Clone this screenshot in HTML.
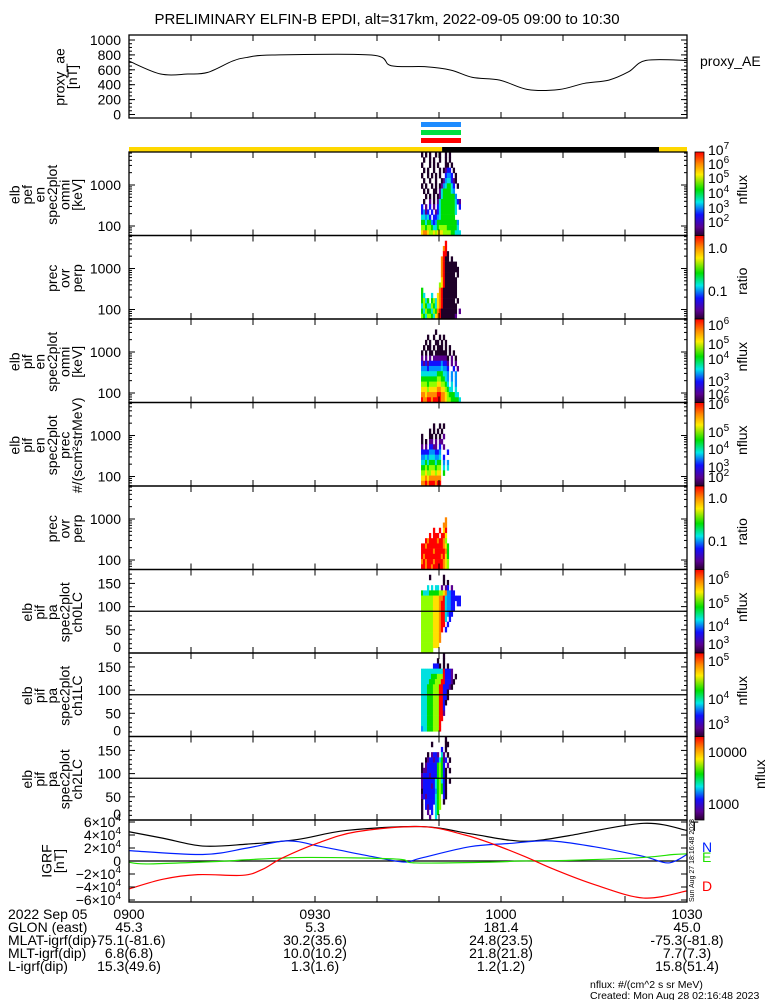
<!DOCTYPE html>
<html><head><meta charset="utf-8"><style>
html,body{margin:0;padding:0;background:#fff;}
svg{display:block;font-family:"Liberation Sans",sans-serif;}
</style></head><body>
<svg id="c" width="775" height="1000" xmlns="http://www.w3.org/2000/svg"></svg>
<script>
// ---------- DATA ----------
const aeTimes=[0,5.1,9.5,12.7,16.7,19.1,23.1,39.1,42.3,47.9,51.9,55.4,59.8,64.3,69.4,73.4,77.4,80.6,83.4,90];
const aeValues=[717,543,543,565,717,767,798,798,655,641,596,498,462,336,336,417,462,574,726,726];
const aeTicks=[0,200,400,600,800,1000];
const tT=[0,5.5,11.9,19.1,27.1,35.1,47.1,55.0,61.4,65.4,71.0,83.0,90];
const tV=[4.5e4,3.5e4,2.3e4,2.6e4,3.3e4,4.7e4,5.3e4,4.2e4,3.2e4,3.1e4,3.9e4,5.8e4,4.7e4];
const nT=[0,11.9,19.1,25.5,31.1,39.1,44.3,47.1,55.0,61.4,67.8,75.0,83.0,87.0,90];
const nV=[1.6e4,1.0e4,2.0e4,3.1e4,2.2e4,0.7e4,-0.15e4,0.45e4,2.2e4,2.7e4,3.1e4,2.2e4,0.7e4,-0.3e4,1.0e4];
const eT=[0,3.2,15.9,19.1,28.7,43.1,46.3,59.0,63.0,71.0,83.0,87.8,90];
const eV=[-0.2e4,-0.45e4,0,0.2e4,0.55e4,0.3e4,-0.3e4,-0.15e4,0,0.1e4,0.55e4,1.0e4,1.1e4];
const dT=[0,5.5,11.1,18.3,21.5,24.7,30.3,36.7,47.1,54.2,59.0,63.8,68.6,75.0,83.0,90];
const dV=[-4.3e4,-2.8e4,-2.1e4,-2.2e4,-1.3e4,0.45e4,2.7e4,4.5e4,5.3e4,4.0e4,2.5e4,0.7e4,-1.3e4,-3.6e4,-5.7e4,-4.6e4];
const igrfTicks=[-6,-4,-2,0,2,4,6];
const timeLabels=["0900","0930","1000","1030"];
const timeLabelMin=[0,30,60,90];
const glon=["45.3","5.3","181.4","45.0"];
const mlat=["-75.1(-81.6)","30.2(35.6)","24.8(23.5)","-75.3(-81.8)"];
const mlt=["6.8(6.8)","10.0(10.2)","21.8(21.8)","7.7(7.3)"];
const lval=["15.3(49.6)","1.3(1.6)","1.2(1.2)","15.8(51.4)"];
const specStart=47.1, specStep=0.32;
const sunT=[0,50.5,85.5,90];
const spec1=[
"0.0.0..0.0..0.0.....",".0..0.0..0..0.0.....","0...0.0.0...00.0....",".0.0..0..0.0122.0...",
"0..0.0.0.0..2332.0..",".0..0..0..01344210..","0.0..0.0.01345542.0.",".0.0..00.14555543...",
"..0.0.0.0145555553..",".0..1.0.145555555421","2.1.2.1.2455555554.2","2312.2.12455555554..",
"44342.22345555555...","5545532355555555553.","6656654456666555554.","78876676777666655444"];
const spec2=[
"....................","............9.......","...........89.......","...........990......",
"..........8900.0....","..........89000000..","..........890000000.","..........8900000.0.",
"..........79000000..",".........679000000..","5........890000000..","54...4..7890000000..",
"5645.564789000000.0.","465446547890000000..","546554658900000000.1","654665478900000001.."];
const spec3=[
"....................","....................",".......0............","...0..0..0.0........",
"..0.0..00.0.0.......",".0.00.0.000.0.0.....","0.0.00.000000.0.0...","1.1.1.11111110.1.0..",
"21212222223221.1.1..","33323333334332..2.1.","44444444555443.3.3..","55555555665543.3.3..",
"66656666776654.4.3..","7776777788776544.4..","8878888899887655544.","98899899998876655554"];
const spec4=[
"....................","....................","....................","....................",
"......0..0.0........","....0.0.0.0.........","0...00.0.0.1........","0.0.11.1.11.........",
"1.1.2211.2.1........","2222333223...2......","3343444334.2........","4454555455.3.3......",
"5565666566.4.4......","6676677677.5........","7787888888..........","8898999899.........."];
const spec5=[
"....................","....................","....................","....................",
"....................","....................","............8.......","...........88.......",
"......9..9.79.......","....9.999.997.......","..98999989986.......","99899999999875......",
"99999989999985......","98999999998975......","89899989999876......","99899899999876......"];
const spec6=[
"....................","....0......0........","...........0.0......","...4.4.44.1.12.1....",
"54445555566783322...","66666677788943322222","66666677789943322.22","66666677789943322...",
"6666667778994322....","6666667778994.2.....","666666777899.2......","66666677789.2.......",
"6666667778..........","6666667778..........","666666777...........","666666.............."];
const spec7=[
"...........0........","........0..0........","......2220.0.0......","4444444444492221....",
"4444455566692221.0..","44445556669922210...","4445556669922210....","44455566699220......",
"44455566699220......","4445556669920.......","444555666992........","444555666991........",
"44455566699.........","4445556669..........","3445556669..........","...................."];
const spec8=[
"............0.......",".....0......00......","..........2.0.......","...0.1221.41.0......",
"..01221224512.0.....","0.1222225652.1......","0112222256520.0.....","1222122256520.......",
"1222222456420.0.....","1222212456520.......","0222222356520.......","1212222456.20.......",
"0.22222456.0........","0.2122.456..........","0..1.2.45...........","0...1..4............"];

// ---------- HELPERS ----------
const svg=document.getElementById('c');
const NS="http://www.w3.org/2000/svg";
function el(tag,attrs,parent){const e=document.createElementNS(NS,tag);for(const k in attrs)e.setAttribute(k,attrs[k]);(parent||svg).appendChild(e);return e;}
const X0=129,X1=687;
function xs(m){return X0+(X1-X0)*m/90;}
function smoothPath(pts){let d='M'+pts[0][0]+','+pts[0][1];for(let i=0;i<pts.length-1;i++){const p0=pts[Math.max(0,i-1)],p1=pts[i],p2=pts[i+1],p3=pts[Math.min(pts.length-1,i+2)];
 const c1x=p1[0]+(p2[0]-p0[0])/6,c1y=p1[1]+(p2[1]-p0[1])/6,c2x=p2[0]-(p3[0]-p1[0])/6,c2y=p2[1]-(p3[1]-p1[1])/6;
 d+=' C'+c1x+','+c1y+' '+c2x+','+c2y+' '+p2[0]+','+p2[1];}return d;}
const levelColors=['#1e0028','#5a0090','#1010ff','#0090ff','#00e0e0','#00dd00','#90ff00','#ffe000','#ff8800','#ff0000'];
function txt(s,x,y,o,name){const t=el('text',Object.assign({x:x,y:y,'font-size':14,fill:'#000'},o||{}));t.textContent=s;return t;}
function vlabels(lines,lastX,cy,name){const n=lines.length;lines.forEach((s,i)=>{const cx=lastX-(n-1-i)*12.5;const t=el('text',{x:cx+5,y:cy,'font-size':14,'text-anchor':'middle',transform:'rotate(-90 '+(cx+5)+' '+cy+')'});t.textContent=s;});}
function timeTicks(top,bot){for(let m=10;m<90;m+=10){const x=xs(m);el('line',{x1:x,y1:bot,x2:x,y2:bot-6,stroke:'#000'});el('line',{x1:x,y1:top,x2:x,y2:top+6,stroke:'#000'});}}
function frame(top,bot,name){const r=el('rect',{x:X0,y:top,width:X1-X0,height:bot-top,fill:'none',stroke:'#000','stroke-width':1.3});}
function sup(base,exp,x,y,anchor,name){const t=el('text',{x:x,y:y,'font-size':14,'text-anchor':anchor||'start'});t.appendChild(document.createTextNode(base));const s=el('tspan',{dy:-6,'font-size':10},t);s.textContent=exp;return t;}

// ---------- TITLE ----------
txt("PRELIMINARY ELFIN-B EPDI, alt=317km, 2022-09-05 09:00 to 10:30",387,24,{'text-anchor':'middle','font-size':15},'plot-title');

// ---------- PROXY AE ----------
const aeTop=35,aeBot=118;
function ya(v){return 114.5-(v/1000)*74.5;}
frame(aeTop,aeBot,'proxy-ae-panel');timeTicks(aeTop,aeBot);
aeTicks.forEach(v=>{txt(String(v),121,ya(v)+5,{'text-anchor':'end'},'ae-y-tick');el('line',{x1:X0,y1:ya(v),x2:X0+6,y2:ya(v),stroke:'#000'});el('line',{x1:X1,y1:ya(v),x2:X1-6,y2:ya(v),stroke:'#000'});});
for(let v=50;v<1050;v+=50){el('line',{x1:X0,y1:ya(v),x2:X0+3,y2:ya(v),stroke:'#000'});el('line',{x1:X1,y1:ya(v),x2:X1-3,y2:ya(v),stroke:'#000'});}
const aeLine=el('path',{d:smoothPath(aeTimes.map((t,i)=>[xs(t),ya(aeValues[i])])),fill:'none',stroke:'#000','stroke-width':1});

vlabels(["proxy_ae","[nT]"],72,77,'ae-y-axis-title');
txt("proxy_AE",700,66,{},'proxy-ae-legend');

// ---------- STATUS BARS ----------
[['#1e8cff',122,'blue-science-bar'],['#00e040',130,'green-science-bar'],['#ff0000',138,'red-science-bar']].forEach(b=>{const r=el('rect',{x:421,y:b[1],width:40,height:5,fill:b[0]});});
for(let i=0;i<sunT.length-1;i++){const r=el('rect',{x:xs(sunT[i]),y:147,width:xs(sunT[i+1])-xs(sunT[i]),height:5,fill:i%2?'#000':'#ffd800'});}

// ---------- SPECTROGRAM PANELS ----------
const H=83.5;
const panels=[
 {data:spec1,kind:'log',lab:["elb","pef","en","spec2plot","omni","[keV]"],cb:[['10','7',155],['10','6',169],['10','5',183],['10','4',198],['10','3',213],['10','2',227]],cbt:'nflux'},
 {data:spec2,kind:'log',lab:["prec","ovr","perp"],cb:[['1.0','',253],['0.1','',296]],cbt:'ratio'},
 {data:spec3,kind:'log',lab:["elb","pif","en","spec2plot","omni","[keV]"],cb:[['10','6',330],['10','5',349],['10','4',364],['10','3',386],['10','2',399]],cbt:'nflux'},
 {data:spec4,kind:'log',lab:["elb","pif","en","spec2plot","prec","#/(scm\u00b2strMeV)"],cb:[['10','6',409],['10','5',437],['10','4',454],['10','3',472],['10','2',482]],cbt:'nflux'},
 {data:spec5,kind:'log',lab:["prec","ovr","perp"],cb:[['1.0','',503],['0.1','',546]],cbt:'ratio'},
 {data:spec6,kind:'pa',lab:["elb","pif","pa","spec2plot","ch0LC"],cb:[['10','6',584],['10','5',608],['10','4',631],['10','3',649]],cbt:'nflux'},
 {data:spec7,kind:'pa',lab:["elb","pif","pa","spec2plot","ch1LC"],cb:[['10','5',666],['10','4',704],['10','3',729]],cbt:'nflux'},
 {data:spec8,kind:'pa',lab:["elb","pif","pa","spec2plot","ch2LC"],cb:[['10000','',757],['1000','',809]],cbt:'nflux'}
];
panels.forEach((p,pi)=>{
 const top=152+pi*H,bot=top+H;
 const g=el('g',{});
 const rows=p.data.length,rh=H/rows;
 p.data.forEach((row,r)=>{for(let c=0;c<row.length&&c<20;c++){const ch=row[c];if(ch==='.')continue;
  const x=xs(specStart+c*specStep);const cell=el('rect',{x:x,y:top+r*rh,width:xs(specStep)-X0+0.3,height:rh+0.3,fill:levelColors[+ch]},g);
  }});
 frame(top,bot,'panel-frame-'+(pi+1));timeTicks(top,bot);
 if(p.kind==='log'){
  const y1000=top+33,dec=41;
  const ly=v=>y1000-(Math.log10(v)-3)*dec;
  txt("1000",121,y1000+5,{'text-anchor':'end'},'y-tick-1000');txt("100",121,y1000+dec+5,{'text-anchor':'end'},'y-tick-100');
  [10,100,1000].forEach(d=>{for(let m=1;m<10;m++){const y=ly(d*m);if(y<top||y>bot)continue;const L=m===1?6:3;
   el('line',{x1:X0,y1:y,x2:X0+L,y2:y,stroke:'#000'});el('line',{x1:X1,y1:y,x2:X1-L,y2:y,stroke:'#000'});}});
 }else{
  const py=v=>bot-v/180*H;
  [0,50,100,150].forEach(v=>txt(String(v),121,(v===0?bot-1:py(v)+5),{'text-anchor':'end'},'pitch-tick'));
  for(let v=10;v<180;v+=10){const L=v%50===0?6:3;el('line',{x1:X0,y1:py(v),x2:X0+L,y2:py(v),stroke:'#000'});el('line',{x1:X1,y1:py(v),x2:X1-L,y2:py(v),stroke:'#000'});}
  const l=el('line',{x1:X0,y1:py(90),x2:X1,y2:py(90),stroke:'#000','stroke-width':1.3});
 }
 vlabels(p.lab,77,top+H/2+1,'panel-y-title');
 const gid='cg'+pi;const lg=el('linearGradient',{id:gid,x1:0,y1:0,x2:0,y2:1});
 [['0','#ff0000'],['0.14','#ff8800'],['0.27','#ffee00'],['0.45','#00e000'],['0.6','#00e8e8'],['0.75','#1010ff'],['0.9','#5a0090'],['1','#2a0030']].forEach(s=>el('stop',{offset:s[0],'stop-color':s[1]},lg));
 const cb=el('rect',{x:695,y:top,width:9,height:H,fill:'url(#'+gid+')',stroke:'#000','stroke-width':0.8});
 p.cb.forEach(l=>{if(l[1])sup(l[0],l[1],708,l[2],'start','colorbar-tick');else txt(l[0],708,l[2],{},'colorbar-tick');});
 const cx=pi===7?760:742,cy=p.cbt==='ratio'?top+H/2+4:top+H/2-4;
 const t=el('text',{x:cx+5,y:cy,'font-size':14,'text-anchor':'middle',transform:'rotate(-90 '+(cx+5)+' '+cy+')'});t.textContent=p.cbt;
});

// ---------- IGRF PANEL ----------
const iTop=820,iBot=902;
function yi(v){return 861-v*6.5/1e4;}
const ig=el('g',{});
const zl=el('line',{x1:X0,y1:yi(0),x2:X1,y2:yi(0),stroke:'#000','stroke-width':1.3},ig);
[[tT,tV,'#000','igrf-total-line'],[nT,nV,'#0020ff','igrf-n-line'],[eT,eV,'#20e000','igrf-e-line'],[dT,dV,'#ff0000','igrf-d-line']].forEach(s=>{
 const pl=el('path',{d:smoothPath(s[0].map((t,i)=>[xs(t),yi(s[1][i])])),fill:'none',stroke:s[2],'stroke-width':1.2},ig);
 });
frame(iTop,iBot,'igrf-frame');timeTicks(iTop,iBot);
igrfTicks.forEach(v=>{const y=yi(v*1e4);
 if(v===0)txt("0",121,y+5,{'text-anchor':'end'},'igrf-y-tick');else sup((v<0?'\u2212':'')+Math.abs(v)+'\u00d710','4',121,y+5,'end','igrf-y-tick');
 el('line',{x1:X0,y1:y,x2:X0+6,y2:y,stroke:'#000'});el('line',{x1:X1,y1:y,x2:X1-6,y2:y,stroke:'#000'});});
vlabels(["IGRF","[nT]"],59,861,'igrf-y-title');
txt("T",690,831,{},'legend-t');txt("N",702,852,{fill:'#0020ff'},'legend-n');txt("E",702,862,{fill:'#20e000'},'legend-e');txt("D",702,891,{fill:'#ff0000'},'legend-d');
const st=el('text',{x:694,y:902,'font-size':7,transform:'rotate(-90 694 902)'});st.textContent="Sun Aug 27 18:16:48 2023";

// ---------- BOTTOM ANNOTATIONS ----------
const rowsY=[919,932,945,958,971];
txt("2022 Sep 05",8,rowsY[0],{},'date-label');txt("GLON (east)",8,rowsY[1],{},'row-label');
txt("MLAT-igrf(dip)",8,rowsY[2],{},'row-label');txt("MLT-igrf(dip)",8,rowsY[3],{},'row-label');txt("L-igrf(dip)",8,rowsY[4],{},'row-label');
[timeLabels,glon,mlat,mlt,lval].forEach((arr,ri)=>arr.forEach((s,i)=>txt(s,xs(timeLabelMin[i]),rowsY[ri],{'text-anchor':'middle'},'annotation-value')));
txt("nflux: #/(cm^2 s sr MeV)",590,988,{'font-size':10.5},'units-note');
txt("Created: Mon Aug 28 02:16:48 2023",590,999,{'font-size':10.5},'created-note');
</script>
</body></html>
